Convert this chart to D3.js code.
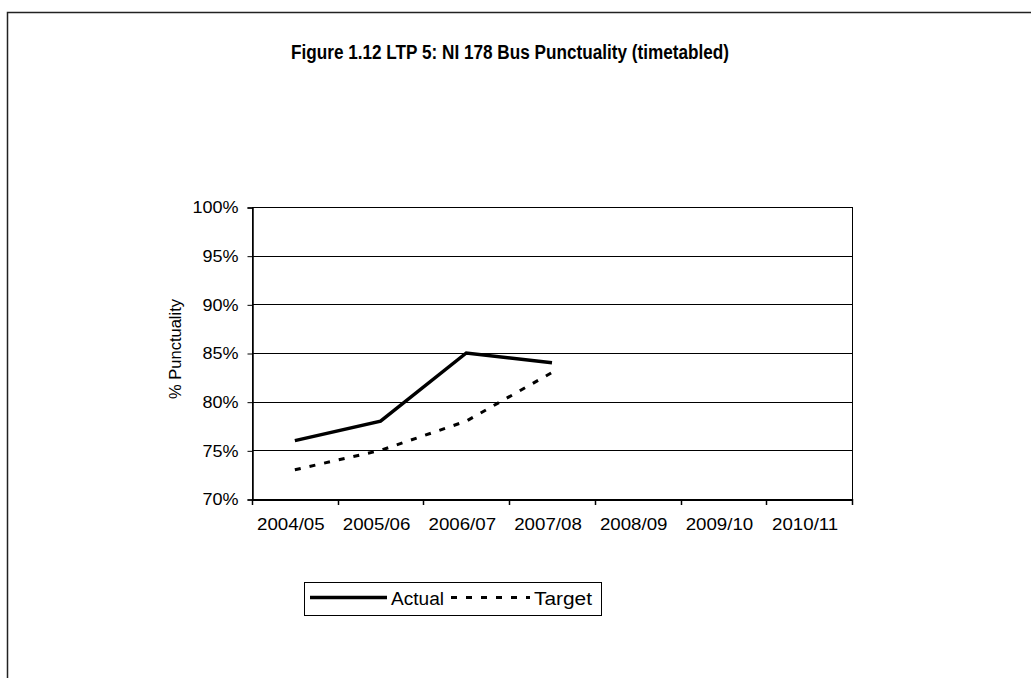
<!DOCTYPE html>
<html><head><meta charset="utf-8">
<script src="https://cdn.jsdelivr.net/npm/d3@7"></script>
<style>body{margin:0;background:#fff}svg{display:block;font-family:Arial,"Liberation Sans",sans-serif}</style>
</head><body>
<svg id="c" width="1031" height="678"></svg>
<script>
const categories = ["2004/05","2005/06","2006/07","2007/08","2008/09","2009/10","2010/11"];
const actual = [76, 78, 85, 84];
const target = [73, 75, 78, 83];
const yTicks = [70, 75, 80, 85, 90, 95, 100];
const titleText = "Figure 1.12 LTP 5: NI 178 Bus Punctuality (timetabled)";
const FONT = "Arial,'Liberation Sans',sans-serif";

const svg = d3.select("#c");
function stretch(sel, k){ sel.each(function(){ const w=this.getComputedTextLength(); d3.select(this).attr("textLength",w*k).attr("lengthAdjust","spacingAndGlyphs"); }); }

// outer frame
svg.append("path").attr("d","M7.5,678 V12.5 H1031").attr("fill","none").attr("stroke","#222").attr("stroke-width",1.5);

const title = svg.append("text").attr("x",510).attr("y",59).attr("text-anchor","middle")
  .attr("font-weight","bold").attr("font-size",19.5).text(titleText);
title.attr("textLength",438).attr("lengthAdjust","spacingAndGlyphs");

const L=252, R=852, T=207, B=499;
const x = d3.scaleBand().domain(categories).range([L,R]);
const y = d3.scaleLinear().domain([70,100]).range([B,T]);

// gridlines
svg.append("g").selectAll("line").data(yTicks).join("line")
  .attr("x1",L).attr("x2",R).attr("y1",d=>Math.round(y(d))+0.5).attr("y2",d=>Math.round(y(d))+0.5)
  .attr("stroke","#000").attr("stroke-width",1);
// plot border
svg.append("rect").attr("x",L+0.5).attr("y",T+0.5).attr("width",R-L).attr("height",B-T)
  .attr("fill","none").attr("stroke","#000").attr("stroke-width",1);

const yAxis = d3.axisLeft(y).tickValues(yTicks).tickSize(5).tickPadding(9).tickFormat(d=>d+"%");
const gy = svg.append("g").attr("transform",`translate(${L+0.5},0.5)`).call(yAxis);
gy.attr("font-size",17).attr("font-family",FONT);
gy.select(".domain").attr("stroke","#000").attr("stroke-width",1.5);
gy.selectAll("text").attr("fill","#000").call(stretch,1.06);

const xAxis = d3.axisBottom(x).tickSize(0).tickPadding(18);
const gx = svg.append("g").attr("transform",`translate(0,${B+0.5})`).call(xAxis);
gx.attr("font-size",17).attr("font-family",FONT);
gx.select(".domain").attr("stroke","#000").attr("stroke-width",2);
gx.selectAll("text").attr("fill","#000").attr("dx",-4).call(stretch,1.1);
// category boundary ticks
svg.append("g").selectAll("line").data(categories.concat([null])).join("line")
  .attr("x1",(d,i)=>Math.round(L+i*x.step())+0.5).attr("x2",(d,i)=>Math.round(L+i*x.step())+0.5)
  .attr("y1",B).attr("y2",B+6).attr("stroke","#000").attr("stroke-width",1.5);

// y label
svg.append("text").attr("transform","translate(181,349) rotate(-90)").attr("text-anchor","middle")
  .attr("font-size",16.5).text("% Punctuality");

const line = d3.line().x((d,i)=>x(categories[i])+x.bandwidth()/2).y(d=>y(d));
svg.append("path").datum(actual).attr("d",line).attr("fill","none").attr("stroke","#000").attr("stroke-width",3.5);
svg.append("path").datum(target).attr("d",line).attr("fill","none").attr("stroke","#000").attr("stroke-width",3).attr("stroke-dasharray","6,9");

// legend
const lg = svg.append("g");
lg.append("rect").attr("x",304.5).attr("y",582.5).attr("width",297).attr("height",33).attr("fill","#fff").attr("stroke","#000").attr("stroke-width",1);
lg.append("line").attr("x1",310).attr("x2",387).attr("y1",597.5).attr("y2",597.5).attr("stroke","#000").attr("stroke-width",3.5);
lg.append("text").attr("x",391).attr("y",605).attr("font-size",18).text("Actual").attr("textLength",53).attr("lengthAdjust","spacingAndGlyphs");
lg.append("line").attr("x1",451).attr("x2",530).attr("y1",597.5).attr("y2",597.5).attr("stroke","#000").attr("stroke-width",3).attr("stroke-dasharray","6,9");
lg.append("text").attr("x",534).attr("y",605).attr("font-size",18).text("Target").attr("textLength",58).attr("lengthAdjust","spacingAndGlyphs");
</script>
</body></html>
